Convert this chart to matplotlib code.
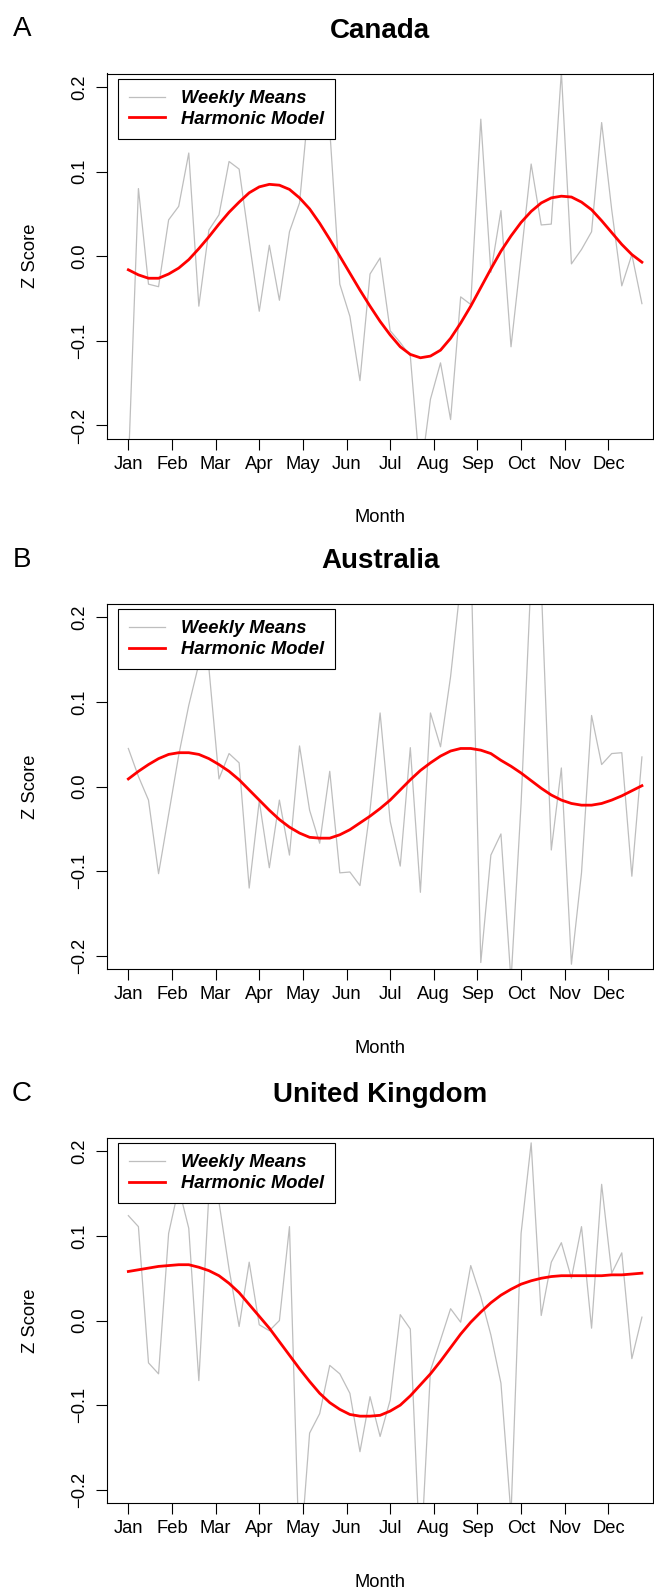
import matplotlib
matplotlib.use("Agg")
import matplotlib.pyplot as plt
import numpy as np

plt.rcParams['font.family'] = ['Liberation Sans', 'DejaVu Sans']

# weeks of the year and month labels
weeks = np.arange(1, 53)
months = ['Jan', 'Feb', 'Mar', 'Apr', 'May', 'Jun',
          'Jul', 'Aug', 'Sep', 'Oct', 'Nov', 'Dec']
month_ticks = 1 + np.arange(12) * 52 / 12

countries = ['Canada', 'Australia', 'United Kingdom']
letters = ['A', 'B', 'C']

# weekly mean z scores (clipped values estimated)
canada_weekly = [-0.25, 0.080, -0.033, -0.036, 0.043, 0.059, 0.122, -0.059, 0.031, 0.049,
                 0.112, 0.103, 0.018, -0.065, 0.013, -0.052, 0.029, 0.063, 0.19, 0.16,
                 0.15, -0.033, -0.071, -0.147, -0.021, -0.002, -0.088, -0.102, -0.118, -0.26,
                 -0.169, -0.126, -0.193, -0.048, -0.057, 0.162, -0.019, 0.054, -0.107, 0.000,
                 0.109, 0.037, 0.038, 0.218, -0.009, 0.008, 0.029, 0.158, 0.055, -0.035,
                 0.002, -0.056]
australia_weekly = [0.045, 0.012, -0.016, -0.103, -0.033, 0.037, 0.096, 0.145, 0.14, 0.009,
                    0.039, 0.028, -0.120, -0.017, -0.096, -0.016, -0.081, 0.048, -0.028, -0.067,
                    0.018, -0.102, -0.101, -0.117, -0.028, 0.087, -0.041, -0.094, 0.046, -0.125,
                    0.087, 0.047, 0.13, 0.24, 0.28, -0.208, -0.081, -0.056, -0.23, -0.02,
                    0.25, 0.24, -0.075, 0.022, -0.210, -0.102, 0.084, 0.026, 0.039, 0.040,
                    -0.106, 0.035]
uk_weekly = [0.124, 0.111, -0.050, -0.063, 0.103, 0.157, 0.109, -0.071, 0.15, 0.14,
             0.061, -0.007, 0.069, -0.005, -0.012, 0.000, 0.111, -0.29, -0.133, -0.110,
             -0.053, -0.063, -0.086, -0.155, -0.090, -0.137, -0.094, 0.007, -0.010, -0.29,
             -0.059, -0.023, 0.014, -0.002, 0.065, 0.028, -0.017, -0.074, -0.23, 0.103,
             0.210, 0.006, 0.069, 0.092, 0.050, 0.111, -0.009, 0.161, 0.056, 0.080,
             -0.045, 0.004]

# harmonic model curves (at each week)
canada_model = [-0.016, -0.022, -0.026, -0.026, -0.021, -0.014, -0.004, 0.009, 0.023, 0.038,
                0.052, 0.064, 0.075, 0.082, 0.085, 0.084, 0.079, 0.069, 0.056, 0.039,
                0.020, 0.000, -0.020, -0.040, -0.059, -0.077, -0.093, -0.107, -0.116, -0.120,
                -0.118, -0.111, -0.097, -0.079, -0.059, -0.037, -0.015, 0.006, 0.024, 0.040,
                0.053, 0.063, 0.069, 0.071, 0.070, 0.064, 0.055, 0.042, 0.028, 0.014,
                0.002, -0.007]
australia_model = [0.009, 0.018, 0.026, 0.033, 0.038, 0.040, 0.040, 0.038, 0.033, 0.026,
                   0.018, 0.008, -0.004, -0.016, -0.028, -0.039, -0.048, -0.055, -0.060, -0.061,
                   -0.061, -0.057, -0.051, -0.043, -0.035, -0.026, -0.016, -0.004, 0.008, 0.019,
                   0.028, 0.036, 0.042, 0.045, 0.045, 0.043, 0.039, 0.031, 0.024, 0.016,
                   0.007, -0.002, -0.010, -0.016, -0.020, -0.022, -0.022, -0.020, -0.016, -0.011,
                   -0.005, 0.001]
uk_model = [0.058, 0.060, 0.062, 0.064, 0.065, 0.066, 0.066, 0.063, 0.059, 0.053,
            0.044, 0.033, 0.019, 0.005, -0.009, -0.025, -0.041, -0.057, -0.072, -0.086,
            -0.097, -0.105, -0.111, -0.113, -0.113, -0.112, -0.107, -0.100, -0.089, -0.076,
            -0.063, -0.048, -0.032, -0.016, -0.002, 0.010, 0.021, 0.030, 0.037, 0.043,
            0.047, 0.050, 0.052, 0.053, 0.053, 0.053, 0.053, 0.053, 0.054, 0.054,
            0.055, 0.056]

weekly_all = [canada_weekly, australia_weekly, uk_weekly]
model_all = [canada_model, australia_model, uk_model]

fig = plt.figure(figsize=(6.54, 15.9), dpi=100)
W, H = 654.0, 1590.0
ax_left, ax_w, ax_h = 107.3 / W, 545.7 / W, 365.5 / H
bottoms = [1 - 439 / H, 1 - 969.3 / H, 1 - 1503.3 / H]

for name, letter, weekly, model, b in zip(countries, letters, weekly_all, model_all, bottoms):
    ax = fig.add_axes([ax_left, b, ax_w, ax_h])
    ax.plot(weeks, weekly, color='#BEBEBE', lw=0.9, label='Weekly Means')
    ax.plot(weeks, model, color='red', lw=2.0, label='Harmonic Model',
            solid_joinstyle='round')
    ax.set_xlim(-1.09, 53.1)
    ax.set_ylim(-0.216, 0.216)
    ax.set_xticks(month_ticks)
    ax.set_xticklabels(months)
    ax.set_yticks([-0.2, -0.1, 0.0, 0.1, 0.2])
    ax.tick_params(direction='out', length=8, width=0.8, labelsize=13.2, color='black')
    ax.tick_params(axis='x', pad=4)
    ax.tick_params(axis='y', labelrotation=90, pad=6)
    for lab in ax.get_yticklabels():
        lab.set_va('center')
    for sp in ax.spines.values():
        sp.set_linewidth(0.8)
        sp.set_color('black')

    ax.set_xlabel('Month', fontsize=13.2)
    ax.set_ylabel('Z Score', fontsize=13.2)
    ax.xaxis.label.set_va('center')
    ax.yaxis.label.set_va('center')
    ax.xaxis.set_label_coords(0.5, -79 / 365.5)
    ax.yaxis.set_label_coords(-77 / 545.7, 0.5)

    ax.text(0.5, 1 + 43 / 365.5, name, transform=ax.transAxes, ha='center', va='center',
            fontsize=20, fontweight='bold')
    fig.text(22 / W, b + ax_h + 44 / H, letter, ha='center', va='center', fontsize=20)

    leg = ax.legend(loc='upper left', bbox_to_anchor=(0.019, 0.985), borderaxespad=0,
                    frameon=True, fancybox=False, edgecolor='black', framealpha=1,
                    prop={'weight': 'bold', 'style': 'italic', 'size': 13.2},
                    handlelength=2.0, handletextpad=0.85, borderpad=0.6, labelspacing=0.2)
    leg.get_frame().set_linewidth(0.8)

fig.savefig('out.png', dpi=100)
